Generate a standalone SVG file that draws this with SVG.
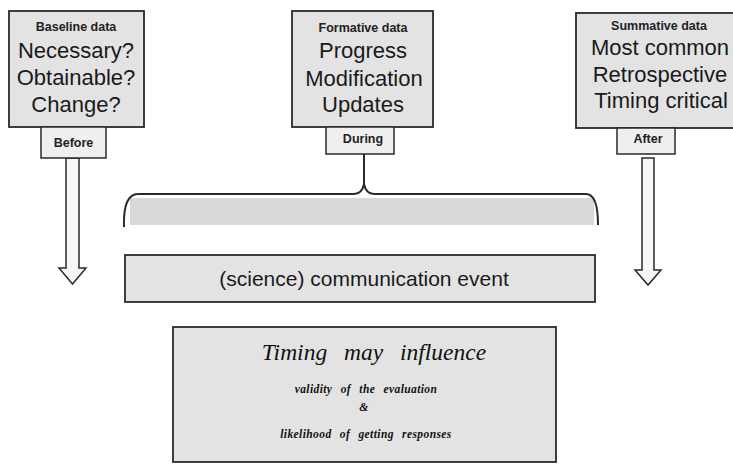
<svg xmlns="http://www.w3.org/2000/svg" width="733" height="468" viewBox="0 0 733 468">
<style>
.box{fill:#e3e3e3;stroke:#2a2a2a;stroke-width:1.8}
.tab{fill:#efefef;stroke:#2a2a2a;stroke-width:1.5}
.hd{font-family:"Liberation Sans",Arial,sans-serif;font-weight:bold;font-size:12.5px;fill:#222;text-anchor:middle}
.big{font-family:"Liberation Sans",Arial,sans-serif;font-size:22px;fill:#1a1a1a;text-anchor:middle}
.arr{fill:#f6f6f6;stroke:#2a2a2a;stroke-width:1.5;stroke-linejoin:miter}
.it{font-family:"Liberation Serif","Times New Roman",serif;font-style:italic;fill:#111;text-anchor:middle}
.sm{font-size:11.5px;font-weight:bold;word-spacing:5px;letter-spacing:0.4px}
.con{fill:none;stroke:#2a2a2a;stroke-width:2}
</style>
<rect width="733" height="468" fill="#ffffff"/>
<g id="connectors">
<path class="arr" d="M66,158 L79,158 L79,268 L86,268 L72.5,284 L59,268 L66,268 Z"/>
<path class="arr" d="M642,158 L654,158 L654,270 L661,270 L648,285 L635,270 L642,270 Z"/>
<path class="con" d="M364,154 L364,185"/>
<rect x="130" y="198" width="464" height="27" fill="#d9d9d9"/>
<path class="con" d="M124,227 Q123,194 138,194 L354,194 Q362,194 364,184 Q366,194 374,194 L586,194 Q598,194 598,225"/>
</g>
<g id="baseline">
<rect class="box" x="9" y="11" width="135" height="116"/>
<text class="hd" x="76" y="31">Baseline data</text>
<text class="big" x="76" y="58">Necessary?</text>
<text class="big" x="76" y="85">Obtainable?</text>
<text class="big" x="76" y="112">Change?</text>
</g>
<g id="before">
<rect class="tab" x="41" y="127" width="65" height="31"/>
<text class="hd" x="73.5" y="147">Before</text>
</g>
<g id="formative">
<rect class="box" x="292" y="11" width="141" height="116"/>
<text class="hd" x="363" y="32">Formative data</text>
<text class="big" x="363" y="58">Progress</text>
<text class="big" x="364" y="86">Modification</text>
<text class="big" x="363" y="112">Updates</text>
</g>
<g id="during">
<rect class="tab" x="326" y="127" width="68" height="27"/>
<text class="hd" x="363" y="143">During</text>
</g>
<g id="summative">
<rect class="box" x="576" y="13" width="160" height="115"/>
<text class="hd" x="659" y="30">Summative data</text>
<text class="big" x="660" y="55">Most common</text>
<text class="big" x="660" y="82">Retrospective</text>
<text class="big" x="661" y="108">Timing critical</text>
</g>
<g id="after">
<rect class="tab" x="617" y="128" width="58" height="26"/>
<text class="hd" x="648" y="143">After</text>
</g>
<g id="event">
<rect class="box" x="125" y="255" width="470" height="47" fill="#dadada"/>
<text class="big" x="364" y="286" style="font-size:21px">(science) communication event</text>
</g>
<g id="timing">
<rect class="box" x="173" y="327" width="383" height="135" fill="#dedede"/>
<text class="it" x="374" y="360" style="font-size:23.5px;word-spacing:11px">Timing may influence</text>
<text class="it sm" x="366" y="393">validity of the evaluation</text>
<text class="it sm" x="364" y="411">&amp;</text>
<text class="it sm" x="366" y="438">likelihood of getting responses</text>
</g>
</svg>
